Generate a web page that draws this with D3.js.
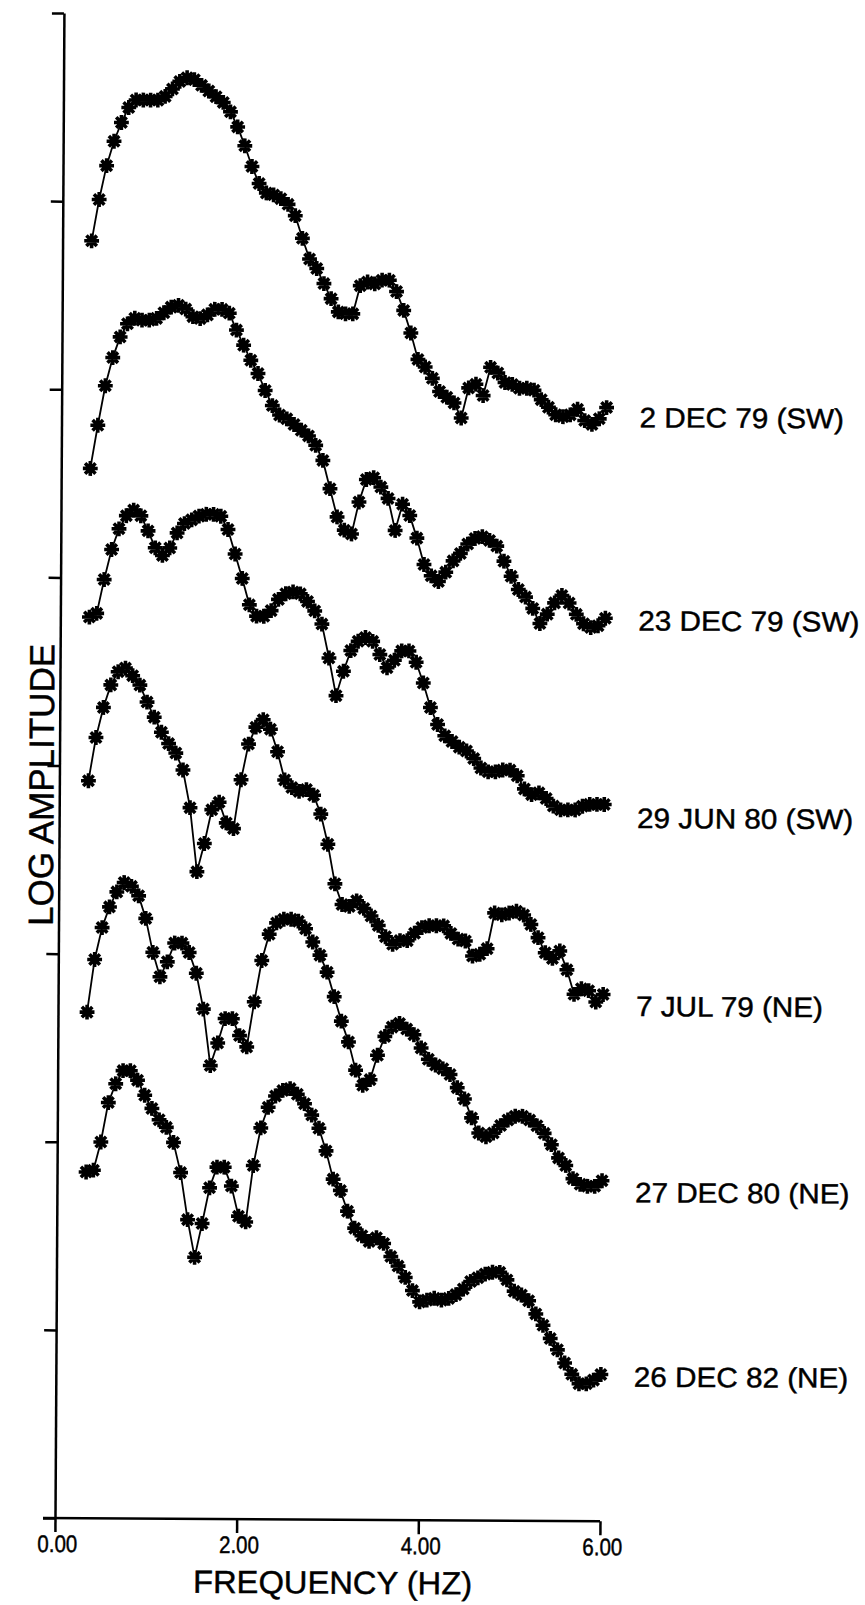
<!DOCTYPE html>
<html><head><meta charset="utf-8">
<script src="https://cdn.jsdelivr.net/npm/d3@7"></script>
<style>body{margin:0;background:#fff} text{stroke:#000;stroke-width:0.45px}</style>
</head><body>
<svg id="c" width="865" height="1605"></svg>
<script>
// Frequency grid (Hz)
const freqStart = 0.32, freqStep = 0.08, nPts = 72;
const freqs = d3.range(nPts).map(i => +(freqStart + freqStep * i).toFixed(2));

// Series labels (top to bottom) and the log-amplitude level each label sits at
const labels = ["2 DEC 79 (SW)", "23 DEC 79 (SW)", "29 JUN 80 (SW)", "7 JUL 79 (NE)", "27 DEC 80 (NE)", "26 DEC 82 (NE)"];
const labelLevels = [5.87, 4.79, 3.74, 2.74, 1.75, 0.77];

// Log amplitude (offset, in axis tick units)
const dec79a = [6.79,7.01,7.19,7.32,7.42,7.50,7.54,7.54,7.54,7.54,7.56,7.60,7.64,7.66,7.65,7.62,7.59,7.56,7.53,7.48,7.40,7.30,7.19,7.10,7.05,7.04,7.02,6.99,6.93,6.81,6.70,6.65,6.57,6.49,6.42,6.41,6.41,6.56,6.58,6.57,6.59,6.59,6.53,6.43,6.31,6.17,6.13,6.07,6.00,5.97,5.94,5.86,6.02,6.04,5.98,6.13,6.10,6.05,6.04,6.02,6.02,6.01,5.96,5.92,5.88,5.87,5.88,5.91,5.85,5.83,5.86,5.92];
const dec79b = [5.58,5.81,6.02,6.17,6.28,6.35,6.38,6.37,6.37,6.38,6.41,6.44,6.45,6.43,6.39,6.38,6.40,6.43,6.43,6.41,6.32,6.24,6.16,6.09,6.00,5.92,5.87,5.85,5.82,5.79,5.76,5.71,5.63,5.48,5.33,5.26,5.24,5.41,5.53,5.54,5.49,5.43,5.26,5.40,5.34,5.22,5.08,5.02,4.99,5.04,5.10,5.14,5.19,5.22,5.23,5.21,5.18,5.10,5.02,4.95,4.91,4.85,4.77,4.82,4.88,4.92,4.88,4.82,4.77,4.75,4.76,4.80];
const jun80 = [4.79,4.81,4.99,5.15,5.26,5.33,5.36,5.33,5.25,5.16,5.12,5.16,5.24,5.29,5.31,5.33,5.34,5.34,5.33,5.26,5.13,5.00,4.86,4.80,4.80,4.83,4.89,4.92,4.93,4.92,4.88,4.83,4.76,4.58,4.38,4.51,4.62,4.67,4.69,4.67,4.60,4.53,4.57,4.62,4.62,4.56,4.45,4.32,4.23,4.17,4.14,4.11,4.09,4.05,4.00,3.98,3.98,3.99,3.99,3.96,3.89,3.86,3.87,3.84,3.80,3.78,3.78,3.78,3.80,3.81,3.81,3.81];
const jul79 = [3.92,4.15,4.31,4.43,4.50,4.52,4.48,4.43,4.34,4.26,4.18,4.12,4.07,3.98,3.78,3.44,3.59,3.77,3.81,3.70,3.67,3.93,4.12,4.21,4.25,4.20,4.08,3.93,3.89,3.87,3.88,3.85,3.75,3.59,3.38,3.27,3.26,3.29,3.25,3.21,3.16,3.10,3.06,3.08,3.08,3.12,3.15,3.16,3.16,3.16,3.12,3.09,3.08,3.00,3.01,3.04,3.23,3.22,3.23,3.24,3.22,3.17,3.10,3.02,2.99,3.03,2.93,2.80,2.83,2.82,2.76,2.80];
const dec80 = [2.69,2.97,3.14,3.25,3.33,3.38,3.36,3.31,3.19,3.01,2.88,2.96,3.06,3.06,3.01,2.90,2.71,2.41,2.53,2.66,2.66,2.57,2.51,2.75,2.97,3.11,3.17,3.19,3.19,3.18,3.14,3.07,3.00,2.91,2.78,2.65,2.54,2.39,2.31,2.34,2.47,2.57,2.62,2.64,2.61,2.58,2.51,2.45,2.42,2.40,2.37,2.30,2.24,2.14,2.06,2.04,2.06,2.10,2.13,2.15,2.15,2.13,2.10,2.06,2.00,1.93,1.89,1.82,1.79,1.78,1.78,1.81];
const dec82 = [1.84,1.85,2.00,2.21,2.31,2.38,2.38,2.33,2.25,2.18,2.12,2.08,2.00,1.84,1.59,1.39,1.57,1.76,1.87,1.87,1.77,1.61,1.58,1.88,2.08,2.19,2.25,2.28,2.29,2.26,2.21,2.15,2.08,1.96,1.81,1.75,1.64,1.55,1.51,1.48,1.50,1.47,1.40,1.35,1.29,1.22,1.16,1.17,1.18,1.17,1.18,1.20,1.23,1.27,1.29,1.31,1.32,1.32,1.28,1.22,1.20,1.17,1.10,1.04,0.97,0.91,0.84,0.78,0.73,0.73,0.75,0.78];

const seriesValues = [dec79a, dec79b, jun80, jul79, dec80, dec82];
const xTickValues = [0, 2, 4, 6];
const yTickValues = [0, 1, 2, 3, 4, 5, 6, 7, 8];

const FONT = "'Liberation Sans', Arial, Helvetica, sans-serif";
const svg = d3.select("#c");
const g = svg.append("g").attr("transform", "rotate(0.34,55,1518)");

const x = d3.scaleLinear().domain([0, 6]).range([55, 600]);
const y = d3.scaleLinear().domain([0, 8]).range([1518, 13]);

// axes
const yAxis = g.append("g").attr("transform", "translate(55,0)")
  .call(d3.axisLeft(y).tickValues(yTickValues).tickSize(12).tickSizeOuter(0).tickFormat(""));
const xAxis = g.append("g").attr("transform", "translate(0,1518)")
  .call(d3.axisBottom(x).tickValues(xTickValues).tickSize(14).tickSizeOuter(0).tickPadding(3).tickFormat(d3.format(".2f")));
[yAxis, xAxis].forEach(a => {
  a.selectAll("path,line").attr("stroke", "#000").attr("stroke-width", 2.5);
});
xAxis.select(".domain").attr("d", "M43,0H600");
xAxis.selectAll("text").attr("font-family", FONT).attr("font-size", 24).attr("fill", "#000")
  .attr("dx", 2).attr("textLength", 40).attr("lengthAdjust", "spacingAndGlyphs");

// titles
g.append("text").attr("x", 333).attr("y", 1592).attr("text-anchor", "middle")
  .attr("font-family", FONT).attr("font-size", 32).attr("textLength", 279).attr("lengthAdjust", "spacingAndGlyphs")
  .text("FREQUENCY (HZ)");
g.append("text").attr("transform", "translate(37,785) rotate(-90)").attr("text-anchor", "middle")
  .attr("dy", "0.35em").attr("font-family", FONT).attr("font-size", 35)
  .attr("textLength", 282).attr("lengthAdjust", "spacingAndGlyphs").text("LOG AMPLITUDE");

// custom 8-arm asterisk symbol
const asterisk = {
  draw(ctx, size) {
    const r = Math.sqrt(size) / 2, d = r * Math.SQRT1_2;
    ctx.moveTo(0, -r); ctx.lineTo(0, r);
    ctx.moveTo(-r, 0); ctx.lineTo(r, 0);
    ctx.moveTo(-d, -d); ctx.lineTo(d, d);
    ctx.moveTo(-d, d); ctx.lineTo(d, -d);
  }
};
const sym = d3.symbol().type(asterisk).size(220);
const line = d3.line().x((d, i) => x(freqs[i])).y(d => y(d));

seriesValues.forEach((vals, si) => {
  const sg = g.append("g");
  sg.append("path").attr("d", line(vals)).attr("fill", "none").attr("stroke", "#000").attr("stroke-width", 1.8);
  sg.selectAll("path.m").data(vals).join("path").attr("class", "m")
    .attr("transform", (d, i) => `translate(${x(freqs[i])},${y(d)})`)
    .attr("d", sym).attr("fill", "none").attr("stroke", "#000").attr("stroke-width", 3.6);
  const t = sg.append("text").attr("x", 633).attr("y", y(labelLevels[si])).attr("dy", "0.36em")
    .attr("font-family", FONT).attr("font-size", 28).attr("fill", "#000").text(labels[si]);
  const w = t.node().getComputedTextLength();
  t.attr("textLength", w * 1.06).attr("lengthAdjust", "spacingAndGlyphs");
});
</script>
</body></html>
